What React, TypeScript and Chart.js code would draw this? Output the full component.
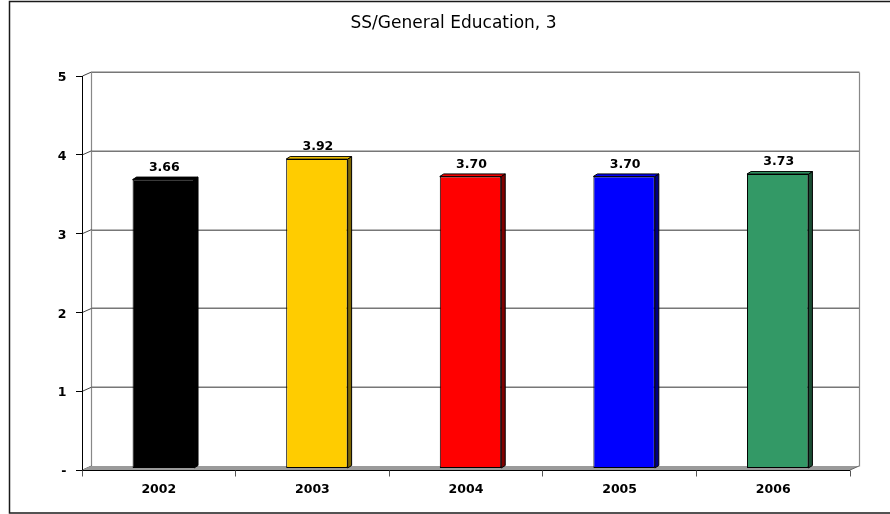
import React, { useEffect, useRef } from 'react';
import { Chart, registerables } from 'chart.js';

Chart.register(...registerables);

const categories = ['2002', '2003', '2004', '2005', '2006'];
const values = [3.66, 3.92, 3.7, 3.7, 3.73];
const valueLabels = ['3.66', '3.92', '3.70', '3.70', '3.73'];
const barColors = ['#000000', '#FFCC00', '#FF0000', '#0000FF', '#339966'];
const sideColors = ['#000000', '#7F6600', '#800000', '#000080', '#1A4D33'];
const yTickValues = [0, 1, 2, 3, 4, 5];
const yTickLabels = ['-', '1', '2', '3', '4', '5'];
const chartTitle = 'SS/General Education, 3';

const DX = 4.5; // half depth of the 3D box (x)
const DY = 2; // half depth of the 3D box (y)
const BAR_DX = 4;
const BAR_DY = 2.5;
const FONT = '"DejaVu Sans", "Liberation Sans", Arial, sans-serif';

const crisp = (v: number) => Math.round(v - 0.5) + 0.5;

const frame3d = {
  id: 'frame3d',
  beforeDraw(chart: any) {
    const ctx = chart.ctx;
    ctx.save();
    ctx.fillStyle = '#ffffff';
    ctx.fillRect(0, 0, chart.width, chart.height);
    ctx.strokeStyle = '#1a1a1a';
    ctx.lineWidth = 1.5;
    ctx.strokeRect(9.5, 1.5, chart.width + 20, 511.5);
    ctx.fillStyle = '#000000';
    ctx.font = '17px ' + FONT;
    ctx.textAlign = 'center';
    ctx.textBaseline = 'middle';
    ctx.fillText(chartTitle, 453.5, 24);
    ctx.restore();
  },
  beforeDatasetsDraw(chart: any) {
    const { ctx, chartArea: a, scales } = chart;
    const ys = scales.y;
    const yTop = ys.getPixelForValue(yTickValues[yTickValues.length - 1]);
    const y0 = ys.getPixelForValue(0);
    const backL = a.left + DX;
    const backR = a.right + DX;
    const frontL = a.left - DX;
    const frontR = a.right - DX;
    ctx.save();
    ctx.lineWidth = 1.5;
    ctx.strokeStyle = '#777777';
    // back wall gridlines
    yTickValues.forEach((v) => {
      if (v === 0) return;
      const py = Math.round(ys.getPixelForValue(v) - DY) + 0.25;
      ctx.beginPath();
      ctx.moveTo(crisp(backL), py);
      ctx.lineTo(crisp(backR), py);
      ctx.stroke();
    });
    // back wall edges
    ctx.lineWidth = 1.2;
    ctx.strokeStyle = '#888888';
    ctx.beginPath();
    ctx.moveTo(crisp(backL), crisp(yTop - DY));
    ctx.lineTo(crisp(backL), crisp(y0 - DY));
    ctx.moveTo(crisp(backR), crisp(yTop - DY));
    ctx.lineTo(crisp(backR), crisp(y0 - DY));
    ctx.stroke();
    // left wall diagonals
    ctx.lineWidth = 1;
    ctx.strokeStyle = '#444444';
    yTickValues.forEach((v) => {
      const py = ys.getPixelForValue(v);
      ctx.beginPath();
      ctx.moveTo(crisp(frontL), py + DY);
      ctx.lineTo(crisp(backL), py - DY);
      ctx.stroke();
    });
    // floor
    ctx.fillStyle = '#9a9a9a';
    ctx.beginPath();
    ctx.moveTo(frontL, y0 + DY);
    ctx.lineTo(frontR, y0 + DY);
    ctx.lineTo(backR, y0 - DY);
    ctx.lineTo(backL, y0 - DY);
    ctx.closePath();
    ctx.fill();
    ctx.strokeStyle = '#666666';
    ctx.beginPath();
    ctx.moveTo(frontR, y0 + DY);
    ctx.lineTo(backR, y0 - DY);
    ctx.stroke();
    // y axis line and ticks
    ctx.strokeStyle = '#000000';
    ctx.beginPath();
    ctx.moveTo(crisp(frontL), yTop + DY);
    ctx.lineTo(crisp(frontL), y0 + DY + 1);
    ctx.stroke();
    yTickValues.forEach((v) => {
      const py = crisp(ys.getPixelForValue(v) + DY);
      ctx.beginPath();
      ctx.moveTo(frontL - 6, py);
      ctx.lineTo(frontL, py);
      ctx.stroke();
    });
    // x axis line and ticks
    const catW = (a.right - a.left) / categories.length;
    const ay = crisp(y0 + DY);
    ctx.beginPath();
    ctx.moveTo(frontL, ay);
    ctx.lineTo(frontR, ay);
    ctx.stroke();
    ctx.strokeStyle = '#555555';
    for (let i = 0; i <= categories.length; i++) {
      const px = crisp(frontL + i * catW);
      ctx.beginPath();
      ctx.moveTo(px, ay);
      ctx.lineTo(px, ay + 6);
      ctx.stroke();
    }
    ctx.restore();
  },
  afterDatasetsDraw(chart: any) {
    const { ctx } = chart;
    const meta = chart.getDatasetMeta(0);
    ctx.save();
    ctx.lineWidth = 1;
    ctx.strokeStyle = '#000000';
    meta.data.forEach((el: any, i: number) => {
      const { x, y, base, width } = el.getProps(['x', 'y', 'base', 'width'], true);
      const l = x - width / 2;
      const r = x + width / 2;
      // side face
      ctx.fillStyle = sideColors[i];
      ctx.beginPath();
      ctx.moveTo(r, y);
      ctx.lineTo(r + BAR_DX, y - BAR_DY);
      ctx.lineTo(r + BAR_DX, base - BAR_DY);
      ctx.lineTo(r, base);
      ctx.closePath();
      ctx.fill();
      ctx.stroke();
      // top face
      ctx.fillStyle = barColors[i];
      ctx.beginPath();
      ctx.moveTo(l, y);
      ctx.lineTo(l + BAR_DX, y - BAR_DY);
      ctx.lineTo(r + BAR_DX, y - BAR_DY);
      ctx.lineTo(r, y);
      ctx.closePath();
      ctx.fill();
      ctx.stroke();
      // value label
      ctx.fillStyle = '#000000';
      ctx.font = 'bold 12.5px ' + FONT;
      ctx.textAlign = 'center';
      ctx.textBaseline = 'middle';
      ctx.fillText(valueLabels[i], x + 1, y - 12);
    });
    ctx.restore();
  },
};

export default function App() {
  const ref = useRef<HTMLCanvasElement | null>(null);
  useEffect(() => {
    if (!ref.current) return;
    const chart = new Chart(ref.current, {
      type: 'bar',
      data: {
        labels: categories,
        datasets: [
          {
            data: values,
            backgroundColor: barColors,
            borderColor: '#000000',
            borderWidth: 1,
            borderSkipped: false,
            barPercentage: 0.4,
            categoryPercentage: 1,
          },
        ],
      },
      options: {
        responsive: false,
        animation: false,
        devicePixelRatio: 1,
        layout: { padding: { left: 0.5, right: 35.5, top: 74, bottom: 0 } },
        plugins: {
          legend: { display: false },
          title: { display: false },
          tooltip: { enabled: false },
        },
        scales: {
          x: {
            grid: { display: false, drawTicks: false },
            border: { display: false },
            ticks: {
              font: { family: FONT, size: 12.5, weight: 'bold' },
              color: '#000000',
              padding: 14,
              labelOffset: -DX,
              maxRotation: 0,
            },
            afterFit: (axis: any) => {
              axis.height = 46;
            },
          },
          y: {
            min: 0,
            max: 5,
            grid: { display: false, drawTicks: false },
            border: { display: false },
            afterBuildTicks: (axis: any) => {
              axis.ticks = yTickValues.map((v) => ({ value: v }));
            },
            ticks: {
              font: { family: FONT, size: 12.5, weight: 'bold' },
              color: '#000000',
              padding: 20,
              labelOffset: 4,
              callback: (v: any) => yTickLabels[yTickValues.indexOf(Number(v))],
            },
            afterFit: (axis: any) => {
              axis.width = 86;
            },
          },
        },
      },
      plugins: [frame3d],
    });
    return () => chart.destroy();
  }, []);
  return (
    <div style={{ position: 'absolute', left: 0, top: 0, width: 890, height: 514 }}>
      <canvas ref={ref} width={890} height={514} />
    </div>
  );
}
